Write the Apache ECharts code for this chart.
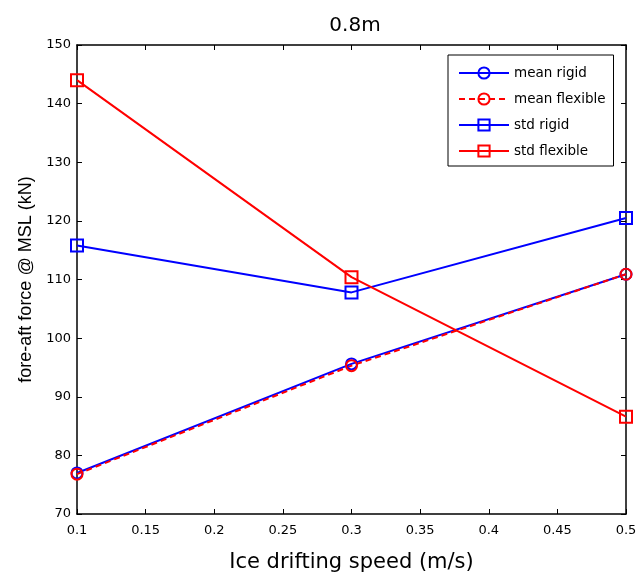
<!DOCTYPE html>
<html>
<head>
<meta charset="utf-8">
<script src="https://cdn.jsdelivr.net/npm/echarts@6/dist/echarts.min.js"></script>
<style>html,body{margin:0;padding:0;background:#fff;}#c{width:638px;height:572px;}</style>
</head>
<body>
<div id="c"></div>
<script>
const speeds = [0.1, 0.3, 0.5];
const meanRigid = [77.0, 95.6, 110.9];
const meanFlexible = [76.8, 95.3, 110.9];
const stdRigid = [115.8, 107.8, 120.5];
const stdFlexible = [144.0, 110.4, 86.6];
const xTickLabels = ['0.1','0.15','0.2','0.25','0.3','0.35','0.4','0.45','0.5'];
const yTickLabels = ['70','80','90','100','110','120','130','140','150'];

const wide = '"DejaVu Sans", Verdana, sans-serif';
const arial = '"Liberation Sans", Arial, sans-serif';
function pairs(ys){ return speeds.map((x,i)=>[x, ys[i]]); }
function mk(name, ys, color, symbol, dashed){
  return {
    name, type:'line', data:pairs(ys), symbol, symbolSize: symbol==='circle'?11:12,
    lineStyle:{color, width:2, type: dashed?[6,4]:'solid'},
    itemStyle:{color:'rgba(0,0,0,0)', borderColor:color, borderWidth:2},
    emphasis:{disabled:true}, animation:false, z: 2
  };
}
const chart = echarts.init(document.getElementById('c'));
const xTickFmt = v => { const i = Math.round((v-0.1)/0.05); return xTickLabels[i] ?? ''; };
const yTickFmt = v => { const i = Math.round((v-70)/10); return yTickLabels[i] ?? ''; };
const axisCommon = {
  axisLine:{show:true, lineStyle:{color:'#000', width:1.5}},
  axisTick:{show:true, inside:true, length:5, lineStyle:{color:'#000'}},
  splitLine:{show:false},
};
chart.setOption({
  backgroundColor:'#fff',
  animation:false,
  title:{text:'0.8m', left:350, top:11, textAlign:'center', textStyle:{fontFamily:wide, fontSize:20, fontWeight:'normal', color:'#000'}},
  grid:{left:77, right:12, top:45, bottom:58, containLabel:false, outerBoundsMode:'none'},
  xAxis:[
    Object.assign({type:'value', min:0.1, max:0.5, interval:0.05, position:'bottom',
      name:'Ice drifting speed (m/s)', nameLocation:'middle', nameGap:38,
      nameTextStyle:{fontFamily:wide, fontSize:21, color:'#000'},
      axisLabel:{formatter:xTickFmt, fontFamily:wide, fontSize:13, color:'#000', margin:10}}, axisCommon),
    Object.assign({type:'value', min:0.1, max:0.5, interval:0.05, position:'top',
      axisLabel:{show:false}}, axisCommon)
  ],
  yAxis:[
    Object.assign({type:'value', min:70, max:150, interval:10, position:'left',
      name:'fore-aft force @ MSL (kN)', nameLocation:'middle', nameGap:42,
      nameTextStyle:{fontFamily:arial, fontSize:18, color:'#000'},
      axisLabel:{formatter:yTickFmt, fontFamily:wide, fontSize:13, color:'#000', margin:6}}, axisCommon),
    Object.assign({type:'value', min:70, max:150, interval:10, position:'right',
      axisLabel:{show:false}}, axisCommon)
  ],
  legend:{
    orient:'vertical', left:448, top:55, width:170,
    padding:[11,8,8,10], itemGap:12, itemWidth:50, itemHeight:14,
    borderColor:'#000', borderWidth:1, backgroundColor:'#fff',
    textStyle:{fontFamily:wide, fontSize:13.5, color:'#000'},
    data:['mean rigid','mean flexible','std rigid','std flexible'],
    selectedMode:false
  },
  series:[
    mk('mean rigid', meanRigid, '#0000ff', 'circle', false),
    mk('mean flexible', meanFlexible, '#ff0000', 'circle', true),
    mk('std rigid', stdRigid, '#0000ff', 'rect', false),
    mk('std flexible', stdFlexible, '#ff0000', 'rect', false)
  ]
});
</script>
</body>
</html>
